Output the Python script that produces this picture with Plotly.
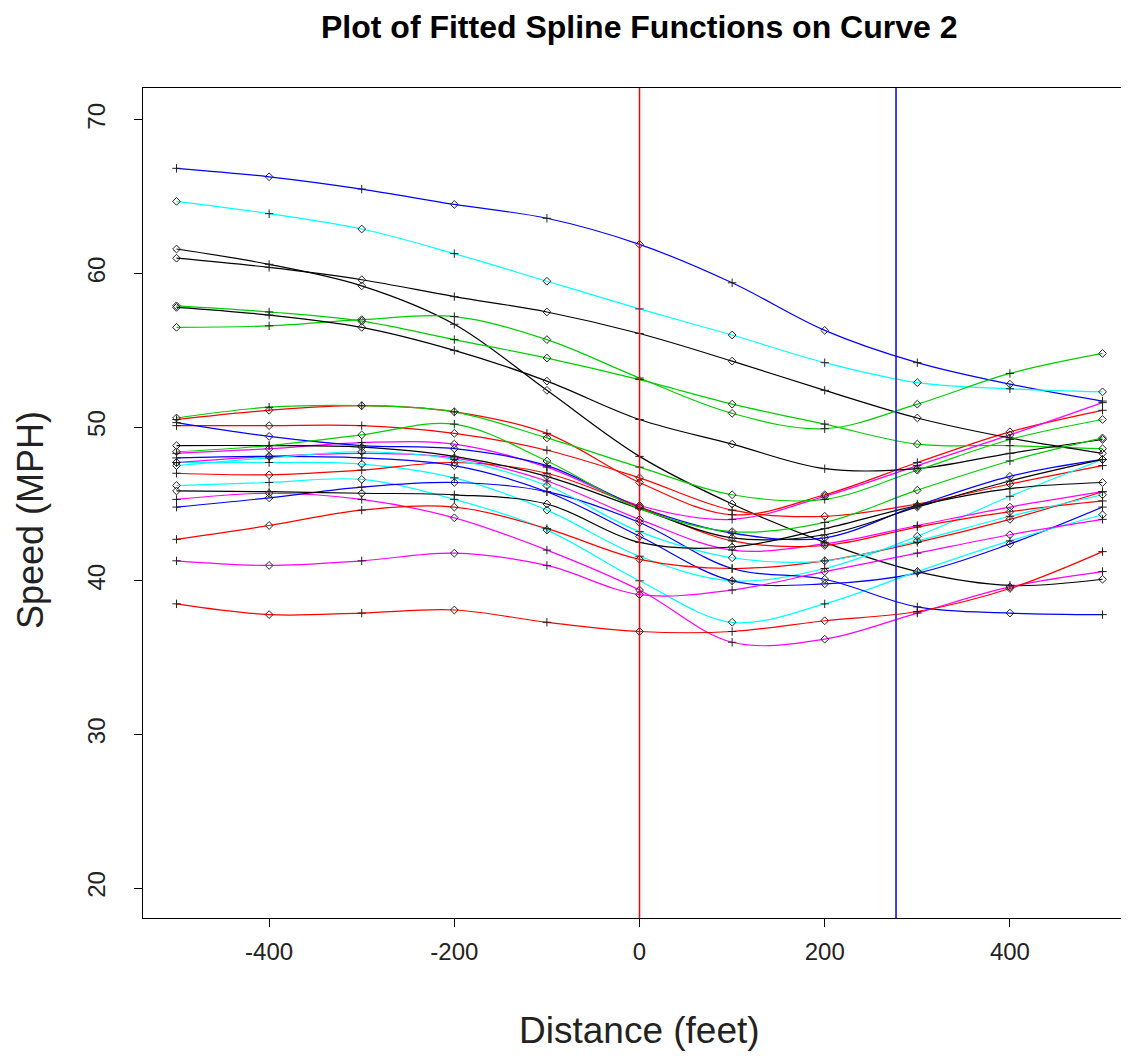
import plotly.graph_objects as go

# Distance (feet) at which each fitted curve was read
distance = [-500, -400, -300, -200, -100, 0, 100, 200, 300, 400, 500]

# Speed (MPH) values per curve
black_1 = [61.6, 60.6, 59.2, 56.7, 52.4, 48.1, 45.0, 42.5, 40.6, 39.7, 40.1]
black_2 = [61.0, 60.4, 59.6, 58.5, 57.5, 56.1, 54.3, 52.4, 50.6, 49.3, 48.3]
black_3 = [57.8, 57.3, 56.5, 55.0, 53.0, 50.5, 48.9, 47.3, 47.3, 48.3, 49.2]
black_4 = [48.8, 48.8, 48.7, 48.1, 46.8, 44.7, 42.8, 43.0, 44.8, 46.5, 47.9]
black_5 = [45.85, 45.8, 45.7, 45.6, 45.0, 42.5, 42.2, 43.4, 44.9, 46.0, 46.4]

red_1 = [50.5, 51.1, 51.4, 51.0, 49.6, 46.4, 44.3, 45.6, 47.7, 49.7, 51.1]
red_2 = [50.1, 50.1, 50.1, 49.6, 48.5, 46.7, 44.6, 44.2, 45.0, 46.3, 47.5]
red_3 = [47.0, 46.9, 47.2, 47.7, 47.0, 44.8, 42.6, 42.3, 43.5, 44.5, 45.2]
red_4 = [42.7, 43.6, 44.6, 44.8, 43.4, 41.4, 40.8, 41.3, 42.5, 44.0, 45.8]
red_5 = [38.5, 37.8, 37.9, 38.1, 37.3, 36.7, 36.7, 37.4, 38.0, 39.5, 41.9]

green_1 = [57.9, 57.5, 56.9, 55.7, 54.5, 53.1, 51.5, 50.2, 48.9, 48.8, 48.6]
green_2 = [56.5, 56.6, 57.0, 57.2, 55.7, 53.2, 50.9, 49.9, 51.5, 53.5, 54.8]
green_3 = [50.6, 51.3, 51.4, 51.0, 49.3, 47.4, 45.6, 45.3, 47.2, 49.2, 50.5]
green_4 = [48.4, 48.8, 49.5, 50.2, 47.8, 44.7, 43.2, 43.8, 45.9, 47.8, 49.3]

blue_1 = [66.85, 66.3, 65.5, 64.5, 63.6, 61.9, 59.4, 56.3, 54.2, 52.8, 51.7]
blue_2 = [50.3, 49.4, 48.8, 48.6, 47.5, 44.8, 43.1, 42.8, 44.9, 46.8, 47.9]
blue_3 = [48.0, 48.1, 48.0, 47.5, 45.8, 42.9, 40.0, 39.8, 40.5, 42.4, 44.8]
blue_4 = [44.8, 45.4, 46.1, 46.4, 45.8, 43.8, 40.8, 40.1, 38.3, 37.9, 37.8]

cyan_1 = [64.7, 63.9, 62.9, 61.3, 59.5, 57.7, 56.0, 54.2, 52.9, 52.5, 52.3]
cyan_2 = [47.7, 47.7, 47.6, 46.7, 44.6, 41.6, 40.0, 40.8, 42.9, 45.5, 47.9]
cyan_3 = [46.2, 46.4, 46.6, 45.3, 43.3, 40.0, 37.3, 38.5, 40.6, 42.6, 44.3]
cyan_4 = [47.5, 48.0, 48.4, 47.9, 46.2, 43.2, 41.5, 41.3, 42.6, 44.2, 45.6]

magenta_1 = [48.3, 48.6, 49.0, 48.9, 47.4, 44.9, 44.0, 45.5, 47.5, 49.5, 51.6]
magenta_2 = [47.7, 48.1, 48.3, 48.0, 46.5, 44.0, 42.0, 42.4, 43.6, 44.8, 45.8]
magenta_3 = [45.3, 45.7, 45.3, 44.1, 42.0, 39.4, 36.0, 36.2, 37.9, 39.6, 40.6]
magenta_4 = [41.3, 41.0, 41.3, 41.8, 41.0, 39.1, 39.4, 40.6, 41.8, 43.0, 44.0]

# Vertical reference lines (feet)
curve_start = 0
curve_end = 277

x_ticks = [-400, -200, 0, 200, 400]
y_ticks = [20, 30, 40, 50, 60, 70]

BLACK, RED, GREEN, BLUE, CYAN, MAGENTA = "#000000", "#FF0000", "#00CD00", "#0000FF", "#00FFFF", "#FF00FF"

series = [
    (black_1, BLACK), (red_1, RED), (green_1, GREEN), (blue_1, BLUE), (cyan_1, CYAN), (magenta_1, MAGENTA),
    (black_2, BLACK), (red_2, RED), (green_2, GREEN), (blue_2, BLUE), (cyan_2, CYAN), (magenta_2, MAGENTA),
    (black_3, BLACK), (red_3, RED), (green_3, GREEN), (blue_3, BLUE), (cyan_3, CYAN), (magenta_3, MAGENTA),
    (black_4, BLACK), (red_4, RED), (green_4, GREEN), (blue_4, BLUE), (cyan_4, CYAN), (magenta_4, MAGENTA),
    (black_5, BLACK), (red_5, RED),
]

fig = go.Figure()

# fitted lines
for vals, col in series:
    fig.add_trace(go.Scatter(
        x=distance, y=vals, mode="lines",
        line=dict(color=col, width=1.2, shape="spline", smoothing=1.0),
        hoverinfo="skip", showlegend=False,
    ))

# observed points
for i, (vals, col) in enumerate(series):
    symbols = ["diamond-open" if (i + j) % 2 == 0 else "cross-thin-open" for j in range(len(vals))]
    fig.add_trace(go.Scatter(
        x=distance, y=vals, mode="markers",
        marker=dict(symbol=symbols, size=6, color="#222222", line=dict(width=1, color="#222222")),
        hoverinfo="skip", showlegend=False,
    ))

fig.add_shape(type="line", x0=curve_start, x1=curve_start, y0=0, y1=1, xref="x", yref="y domain",
              line=dict(color="#FF0000", width=1.5))
fig.add_shape(type="line", x0=curve_end, x1=curve_end, y0=0, y1=1, xref="x", yref="y domain",
              line=dict(color="#0000FF", width=1.5))

FONT = "Liberation Sans, Arial, sans-serif"

# page body has an 8px margin: figure is shrunk so the plot box lands where the reference's does
W, H = 1121, 1051
L, T, B, R = 135, 80, 141, 0
plot_w = W - L - R
plot_h = H - T - B

fig.update_layout(
    width=W, height=H,
    margin=dict(l=L, r=R, t=T, b=B, pad=0),
    paper_bgcolor="white", plot_bgcolor="white",
    font=dict(family=FONT, color="#222222"),
    xaxis=dict(range=[-536.2, 528.6], tickvals=x_ticks, ticktext=[str(v) for v in x_ticks],
               showgrid=False, zeroline=False, showline=True, linecolor="#000000", linewidth=1.3,
               mirror=True, ticks="outside", ticklen=8, tickwidth=1.2, tickcolor="#000000",
               ticklabelstandoff=4,
               tickfont=dict(size=24, family=FONT, color="#222222")),
    yaxis=dict(range=[18.05, 72.08], tickvals=y_ticks, ticktext=[str(v) for v in y_ticks],
               showgrid=False, zeroline=False, showline=True, linecolor="#000000", linewidth=1.3,
               mirror=False, ticks="outside", ticklen=8, tickwidth=1.2, tickcolor="#000000",
               tickangle=-90, ticklabelstandoff=19,
               tickfont=dict(size=24, family=FONT, color="#222222")),
    annotations=[
        dict(text="<b>Plot of Fitted Spline Functions on Curve 2</b>",
             x=(631 - L) / plot_w, y=1 + (T - 19) / plot_h, xref="paper", yref="paper",
             showarrow=False, font=dict(size=32, family=FONT, color="#000000"), yanchor="middle"),
        dict(text="Distance (feet)", x=(631 - L) / plot_w, y=-(1022 - (T + plot_h)) / plot_h,
             xref="paper", yref="paper", showarrow=False,
             font=dict(size=37, family=FONT, color="#222222"), yanchor="middle"),
        dict(text="Speed (MPH)", x=-(L - 22) / plot_w, y=1 - (512 - T) / plot_h,
             xref="paper", yref="paper", showarrow=False, textangle=-90,
             font=dict(size=36, family=FONT, color="#222222"), xanchor="center", yanchor="middle"),
    ],
)

fig.write_html("out.html")
